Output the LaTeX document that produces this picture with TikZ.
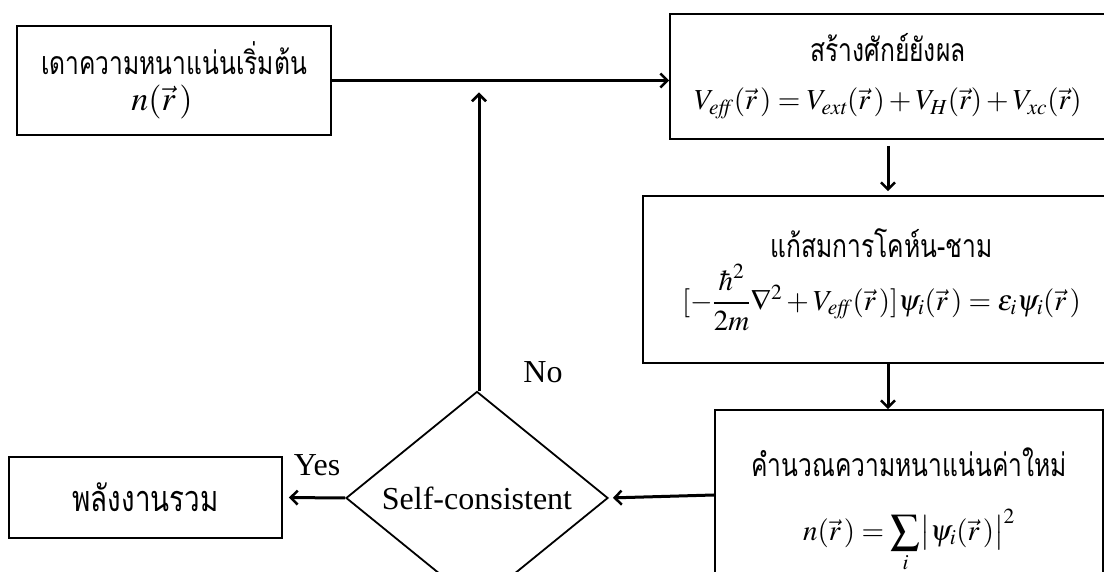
\documentclass[tikz,border=0pt]{standalone}
\usepackage{amsmath}
\usepackage{graphicx}
\usepackage{mathptmx}
\usepackage[no-math]{fontspec}
\setmainfont{Liberation Serif}
\newfontfamily\thaifont[Script=Thai]{Loma}
\newcommand\thaitxt[2]{\scalebox{0.77}[1]{\thaifont\fontsize{#1}{#1}\selectfont #2}}
\usetikzlibrary{shapes.geometric, arrows.meta, positioning}

\begin{document}
\begin{tikzpicture}[
    x=1pt, y=1pt,
    box/.style={rectangle, draw=black, line width=1.8pt, align=center, inner sep=0pt, font=\fontsize{29}{34}\selectfont},
    decision/.style={diamond, draw=black, line width=1.8pt, minimum width=262pt, minimum height=150pt, inner sep=0pt, font=\fontsize{32}{38}\selectfont},
    arrow/.style={-{Straight Barb[length=7pt, width=14pt, line width=2.5pt]}, line width=3pt},
    lbl/.style={font=\fontsize{32}{38}\selectfont}
]
    \useasboundingbox (0,0) rectangle (1104,572);
    \clip (0,0) rectangle (1104,572);

    \node[box, minimum width=314pt, minimum height=109pt] (guess) at (174,491.5)
        {\thaitxt{32}{เดาความหนาแน่นเริ่มต้น}\\[2pt] \hspace*{-24pt}{\fontsize{34}{38}\selectfont$n(\vec{r}\,)$}};
    \node[box, minimum width=436pt, minimum height=125pt] (veff) at (888,495.5)
        {\thaitxt{32}{สร้างศักย์ยังผล}\\[14pt]
         $V_{\mathit{eff}}(\vec{r}\,)=V_{\mathit{ext}}(\vec{r}\,)+V_H(\vec{r})+V_{xc}(\vec{r})$};
    \node[box, minimum width=477pt, minimum height=167pt] (ks) at (881.5,292.5)
        {\thaitxt{32}{แก้สมการโคห์น-ชาม}\\[6pt]
         $[-\dfrac{\hbar^2}{2m}\nabla^2+V_{\mathit{eff}}(\vec{r}\,)]\psi_i(\vec{r}\,)=\varepsilon_i\psi_i(\vec{r}\,)$};
    \node[box, minimum width=388pt, minimum height=200pt] (dens) at (909,62)
        {\thaitxt{32}{คำนวณความหนาแน่นค่าใหม่}\\[30pt]
         $\displaystyle n(\vec{r}\,)=\sum_i\bigl|\psi_i(\vec{r}\,)\bigr|^2$};
    \node[decision] (scf) at (477,74) {Self-consistent};
    \node[box, minimum width=273pt, minimum height=81pt] (etot) at (145.5,74.5)
        {\thaitxt{36}{พลังงานรวม}};

    \node[lbl] (yes) at ([xshift=-28pt, yshift=33pt]scf.west) {Yes};
    \node[lbl] (no) at ([xshift=66pt, yshift=18pt]scf.north) {No};

    \draw[arrow] (guess.east) -- (guess.east -| veff.west);
    \draw[arrow] ([xshift=2pt]scf.north) -- ([xshift=2pt, yshift=-12pt]scf.north |- guess.east);
    \draw[arrow, shorten <=6pt, shorten >=4pt] (veff.south) -- (veff.south |- ks.north);
    \draw[arrow] (ks.south -| veff.south) -- (dens.north -| veff.south);
    \draw[arrow, shorten >=4pt] ([yshift=3pt]dens.west |- scf.east) -- (scf.east);
    \draw[arrow, shorten >=6pt] (scf.west) -- (etot.east);
\end{tikzpicture}
\end{document}
